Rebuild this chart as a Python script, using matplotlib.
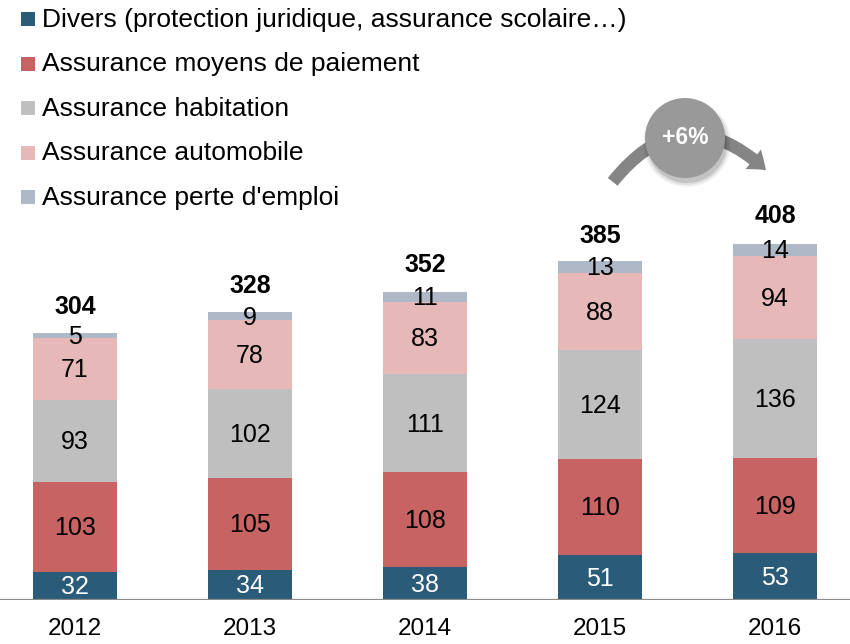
import matplotlib
matplotlib.use("Agg")
import matplotlib.pyplot as plt
from matplotlib.patches import Circle, FancyArrowPatch, Rectangle
import numpy as np

plt.rcParams['font.family'] = ['Liberation Sans', 'DejaVu Sans']

years = ["2012", "2013", "2014", "2015", "2016"]
divers = [32, 34, 38, 51, 53]
moyens_paiement = [103, 105, 108, 110, 109]
habitation = [93, 102, 111, 124, 136]
automobile = [71, 78, 83, 88, 94]
perte_emploi = [5, 9, 11, 13, 14]
totals = [304, 328, 352, 385, 408]
growth_label = "+6%"

series_names = [
    "Divers (protection juridique, assurance scolaire\u2026)",
    "Assurance moyens de paiement",
    "Assurance habitation",
    "Assurance automobile",
    "Assurance perte d'emploi",
]
series = [divers, moyens_paiement, habitation, automobile, perte_emploi]
colors = ["#2A5B78", "#C76363", "#BFBFBF", "#E6B8B8", "#AEB8C6"]
label_colors = ["white", "black", "black", "black", "black"]

W, H = 850, 644
fig = plt.figure(figsize=(W / 100, H / 100), dpi=100)
base_px = 600
px_per_unit = 0.8775
ax = fig.add_axes([0, (H - base_px) / H, 1, base_px / H])
ax.set_ylim(0, base_px / px_per_unit)
ax.set_xlim(-75 / 175, (W - 75) / 175)
ax.axis('off')

x = np.arange(len(years))
bottom = np.zeros(len(years))
for vals, col, lc in zip(series, colors, label_colors):
    vals = np.array(vals, dtype=float)
    ax.bar(x, vals, bottom=bottom, width=0.48, color=col, edgecolor='none', zorder=2)
    for xi, b, v in zip(x, bottom, vals):
        ax.annotate(f"{int(v)}", (xi, b + v / 2), xytext=(0, -1), textcoords='offset points',
                    ha='center', va='center', fontsize=18, color=lc, zorder=4)
    bottom += vals

for xi, t in zip(x, totals):
    ax.annotate(str(t), (xi, t), xytext=(0, 18.7), textcoords='offset points',
                ha='center', va='center', fontsize=18, fontweight='bold', color='black')

# baseline
ax.axhline(0, color='#8C8C8C', lw=1.6, zorder=3)

# year labels
for xi, y in zip(x, years):
    ax.annotate(y, (xi, 0), xytext=(0, -20.9), textcoords='offset points',
                ha='center', va='center', fontsize=17.5, color='black', annotation_clip=False)

# legend (manual)
row_y = [19, 63.5, 108, 152.5, 197]
for name, col, ry in zip(series_names, colors, row_y):
    fig.patches.append(Rectangle((21 / W, 1 - (ry + 7) / H), 14 / W, 14 / H,
                                 transform=fig.transFigure, facecolor=col,
                                 edgecolor='none'))
    fig.text(42 / W, 1 - (ry + 1) / H, name, ha='left', va='center', fontsize=19,
             color='black')

# growth arrow + circle
def fp(px, py):
    return (px / W, 1 - py / H)

arrow = FancyArrowPatch(fp(611, 184), fp(768, 172), transform=fig.transFigure,
                        connectionstyle="arc3,rad=-0.55",
                        arrowstyle="Simple,tail_width=9,head_width=18,head_length=12",
                        color='#858585', lw=0, zorder=5)
fig.patches.append(arrow)

cx, cy = 685, 138
r = 40
for dr, a in [(4, 0.05), (2, 0.08), (0, 0.12)]:
    fig.add_artist(Circle((cx + 2, H - cy - 5), r + dr, transform=None,
                          facecolor='#000000', alpha=a, edgecolor='none', zorder=6))
fig.add_artist(Circle((cx, H - cy), r, transform=None, facecolor='#999999',
                      edgecolor='none', zorder=7))
fig.text(cx / W, 1 - cy / H, growth_label, ha='center', va='center', fontsize=16.5,
         fontweight='bold', color='white', zorder=8)

fig.savefig("out.png", dpi=100)
